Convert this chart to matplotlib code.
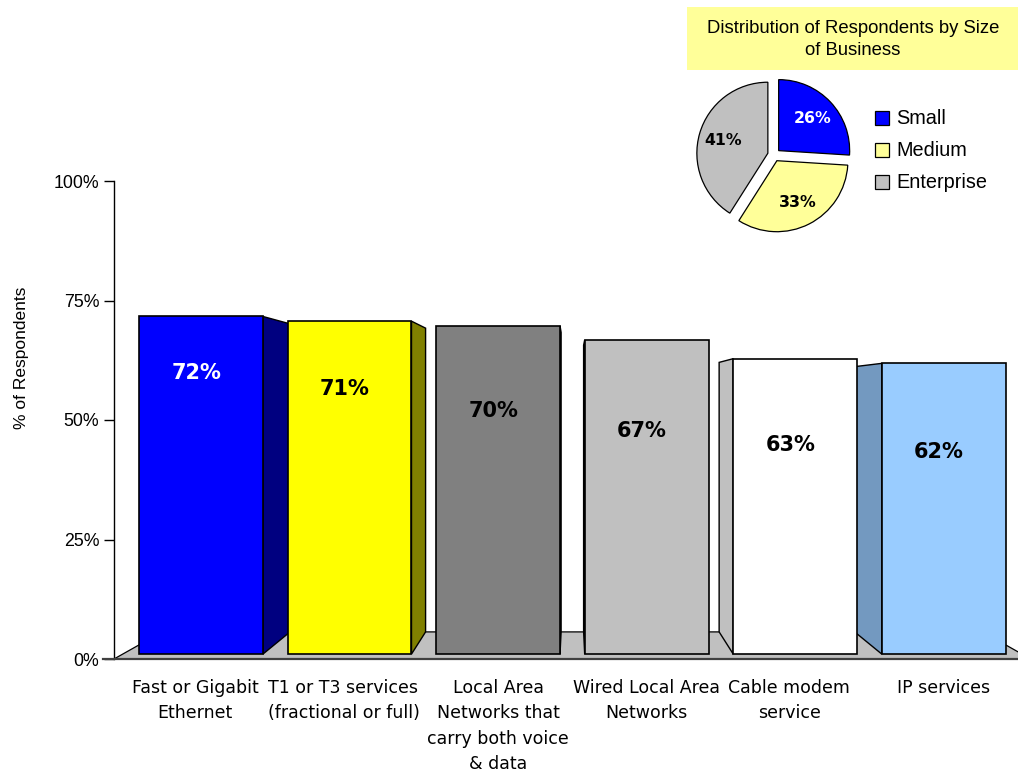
import matplotlib
matplotlib.use("Agg")
import matplotlib.pyplot as plt
from matplotlib.patches import Polygon, Rectangle

# ---- data ----
categories = [
    "Fast or Gigabit\nEthernet",
    "T1 or T3 services\n(fractional or full)",
    "Local Area\nNetworks that\ncarry both voice\n& data",
    "Wired Local Area\nNetworks",
    "Cable modem\nservice",
    "IP services",
]
values = [72, 71, 70, 67, 63, 62]

business_sizes = ["Small", "Medium", "Enterprise"]
business_shares = [26, 33, 41]

# ---- styling ----
bar_colors = ["#0000FF", "#FFFF00", "#808080", "#C0C0C0", "#FFFFFF", "#99CCFF"]
side_colors = ["#000080", "#808000", "#404040", "#909090", "#C0C0C0", "#7399C0"]
value_text_colors = ["white", "black", "black", "black", "black", "black"]
value_text_heights = [59.8, 56.5, 51.9, 47.7, 44.8, 43.3]
pie_colors = ["#0000FF", "#FFFF99", "#C0C0C0"]
pie_text_colors = ["white", "black", "black"]

W, H = 1018, 773
fig = plt.figure(figsize=(W / 100, H / 100), dpi=100)


def fx(px):
    return px / W


def fy(py):
    return 1 - py / H


# ---- main 3D-style bar chart ----
ax = fig.add_axes([fx(114), fy(659), fx(1018) - fx(114), fy(181) - fy(659)])
x_left, x_right = -0.527, 5.443
ax.set_xlim(x_left, x_right)
ax.set_ylim(0, 100)

# perspective: points recede toward a vanishing point
VX, VY = 2.5, 54.0
S_FRONT, S_BACK = 0.981, 0.895
half_w = 0.417


def proj(x, y, s):
    return (VX + (x - VX) * s, VY + (y - VY) * s)


floor_l, floor_r = x_left, 2 * VX - x_left
floor = Polygon([proj(floor_l, 0, 1), proj(floor_r, 0, 1),
                 proj(floor_r, 0, S_BACK), proj(floor_l, 0, S_BACK)],
                closed=True, facecolor="#C0C0C0", edgecolor="black",
                linewidth=0.9, clip_on=False, zorder=1)
ax.add_patch(floor)

for i, v in enumerate(values):
    xl, xr = i - half_w, i + half_w
    xs = xr if xr < VX else xl
    side = Polygon([proj(xs, 0, S_FRONT), proj(xs, v, S_FRONT),
                    proj(xs, v, S_BACK), proj(xs, 0, S_BACK)],
                   closed=True, facecolor=side_colors[i], edgecolor="black",
                   linewidth=1.0, clip_on=False, zorder=2)
    ax.add_patch(side)

label_shift = [-0.04, -0.04, 0.0, 0.0, -0.04, 0.0]
for i, v in enumerate(values):
    xl, xr = i - half_w, i + half_w
    front = Polygon([proj(xl, 0, S_FRONT), proj(xr, 0, S_FRONT),
                     proj(xr, v, S_FRONT), proj(xl, v, S_FRONT)],
                    closed=True, facecolor=bar_colors[i], edgecolor="black",
                    linewidth=1.2, clip_on=False, zorder=3)
    ax.add_patch(front)
    cx = proj(i, 0, S_FRONT)[0]
    ax.text(cx - 0.03, value_text_heights[i], f"{v}%", ha="center", va="center",
            fontsize=15, fontweight="bold", family="DejaVu Sans",
            color=value_text_colors[i], zorder=4)
    ax.text(cx + label_shift[i], -4.2, categories[i], ha="center", va="top",
            fontsize=12.5, family="DejaVu Sans", linespacing=1.52, color="black")

ax.spines["top"].set_visible(False)
ax.spines["right"].set_visible(False)
ax.spines["bottom"].set_color("#404040")
ax.spines["bottom"].set_linewidth(1.6)
ax.spines["bottom"].set_bounds(x_left - 0.07, x_right)
ax.spines["left"].set_linewidth(1.0)
ax.set_xticks([])
ax.set_yticks([0, 25, 50, 75, 100])
ax.set_yticklabels(["0%", "25%", "50%", "75%", "100%"], family="Liberation Sans",
                   fontsize=12.8)
ax.tick_params(axis="y", direction="out", length=7.5, width=1.0, pad=3)
ax.set_ylabel("% of Respondents", family="Liberation Sans", fontsize=12.5)
ax.yaxis.set_label_coords(-0.094, 0.63)
ax.patch.set_visible(False)

# ---- inset pie: respondents by business size ----
cx_p, cy_p, r_p = 774, 155, 71
half = 1.2 * r_p
pax = fig.add_axes([fx(cx_p - half), fy(cy_p + half), 2 * half / W, 2 * half / H])
wedges, _, autotexts = pax.pie(
    business_shares, colors=pie_colors, explode=[0.09] * 3, startangle=90,
    counterclock=False, autopct=lambda p: f"{p:.0f}%", pctdistance=0.66,
    wedgeprops=dict(edgecolor="black", linewidth=0.9),
    textprops=dict(fontsize=11.3, fontweight="bold", family="DejaVu Sans"))
for t, c in zip(autotexts, pie_text_colors):
    t.set_color(c)
pax.set_xlim(-1.2, 1.2)
pax.set_ylim(-1.2, 1.2)
pax.set_aspect("equal")
pax.axis("off")

# title box of the pie
fig.add_artist(Rectangle((fx(687), fy(70)), fx(1018) - fx(687), fy(7) - fy(70),
                         transform=fig.transFigure, facecolor="#FFFF99",
                         edgecolor="none", zorder=0))
fig.text(fx(853), fy(39.5), "Distribution of Respondents by Size\nof Business",
         ha="center", va="center", family="Liberation Sans", fontsize=13.3,
         linespacing=1.38)

# legend of the pie
for j, (name, col) in enumerate(zip(business_sizes, pie_colors)):
    ymid = 118 + 32 * j
    fig.add_artist(Rectangle((fx(875), fy(ymid + 7)), 14 / W, 14 / H,
                             transform=fig.transFigure, facecolor=col,
                             edgecolor="black", linewidth=0.9))
    fig.text(fx(896), fy(ymid), name, ha="left", va="center",
             family="Liberation Sans", fontsize=14.3)

fig.savefig("out.png", dpi=100)
